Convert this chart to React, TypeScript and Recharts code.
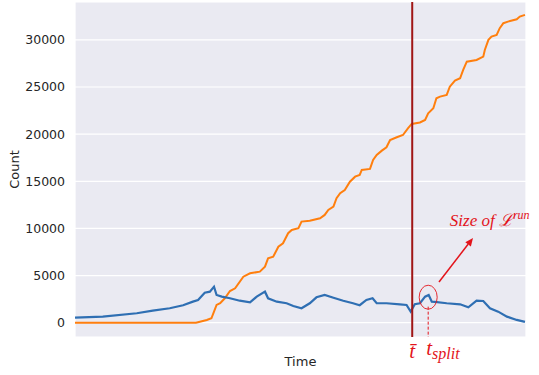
import { LineChart, Line, XAxis, YAxis, CartesianGrid, ReferenceLine, ReferenceDot } from "recharts";

// time axis is unitless (no tick labels in the original), grid every 10 units
const blueTime = [0, 5.4, 12, 15.1, 18.4, 21, 22.9, 23.9, 25.2, 26.2, 27, 27.5, 28.5, 30.1, 32, 34, 35.3, 36.9, 37.5, 39.2, 41.1, 42.4, 44, 45.6, 46.9, 48.5, 50.2, 52.1, 54, 55.3, 56.6, 57.8, 58.6, 60.5, 63.1, 64.4, 65.2, 66, 67, 68, 68.7, 69.3, 69.9, 72.2, 74.8, 76.4, 78, 79.3, 80.6, 82.2, 83.9, 85.8, 87.4];
const blueCount = [530, 640, 1000, 1270, 1530, 1850, 2230, 2410, 3180, 3290, 3820, 2940, 2760, 2590, 2330, 2160, 2760, 3290, 2590, 2230, 2060, 1770, 1530, 2060, 2690, 2940, 2650, 2330, 2060, 1850, 2410, 2590, 2060, 2060, 1950, 1880, 1170, 1950, 2060, 2760, 2940, 2230, 2200, 2060, 1950, 1630, 2330, 2300, 1530, 1170, 640, 290, 80];

const orangeTime = [0, 23.5, 25.6, 26.5, 27, 27.5, 28.2, 29.1, 30.1, 31.1, 32.7, 34, 35.9, 36.9, 37.5, 38.5, 39.5, 40.4, 41.4, 42.1, 43.4, 44, 45.6, 47.6, 48.5, 49.2, 50.2, 50.8, 51.5, 52.4, 53.4, 54.4, 55.3, 55.7, 57.3, 57.9, 58.6, 59.6, 60.5, 61.2, 62.5, 63.7, 64.7, 65.4, 67, 68, 68.6, 69.6, 70.2, 70.9, 72.2, 72.8, 73.8, 74.8, 75.4, 76.1, 78, 79.3, 79.6, 80.3, 80.9, 81.9, 82.5, 83.2, 84.1, 85.8, 86.4, 87.4];
const orangeCount = [0, 0, 290, 470, 1170, 1880, 2060, 2590, 3360, 3650, 4880, 5240, 5410, 5940, 6830, 7000, 8060, 8420, 9490, 9840, 10020, 10720, 10820, 11080, 11430, 11960, 12310, 13200, 13730, 14080, 14960, 15490, 15670, 16200, 16310, 17260, 17790, 18250, 18610, 19380, 19670, 19910, 20630, 21080, 21240, 21510, 22220, 22750, 23810, 23980, 24160, 25040, 25680, 25930, 26810, 27690, 27870, 28220, 28930, 30000, 30350, 30530, 31240, 31770, 31940, 32190, 32470, 32650];

const xTicks = [0, 10, 20, 30, 40, 50, 60, 70, 80];
const yTicks = [0, 5000, 10000, 15000, 20000, 25000, 30000];

const tBar = 65.5;
const tSplit = 68.6;

const blueData = blueTime.map((t, i) => ({ t, count: blueCount[i] }));
const orangeData = orangeTime.map((t, i) => ({ t, count: orangeCount[i] }));

const RED = "#e3141b";
const DARKRED = "#a01616";

const Arrow = (p: any) => {
  const { x1, y1, x2, y2 } = p;
  const ang = Math.atan2(y2 - y1, x2 - x1);
  const L = 8;
  const W = 3.5;
  const bx = x2 - L * Math.cos(ang);
  const by = y2 - L * Math.sin(ang);
  const px = -Math.sin(ang) * W;
  const py = Math.cos(ang) * W;
  return (
    <g>
      <line x1={x1} y1={y1} x2={bx} y2={by} stroke={RED} strokeWidth={1.5} />
      <polygon points={`${x2},${y2} ${bx + px},${by + py} ${bx - px},${by - py}`} fill={RED} />
    </g>
  );
};

export default function App() {
  return (
    <div style={{ position: "absolute", left: 0, top: 0, fontFamily: "DejaVu Sans" }}>
      <LineChart width={539} height={375} margin={{ top: 2, right: 13, bottom: 8, left: 0 }}>
        <CartesianGrid fill="#EAEAF2" stroke="#ffffff" strokeWidth={1.2} horizontal vertical />
        <XAxis
          type="number"
          dataKey="t"
          domain={[0, 87.6]}
          ticks={xTicks}
          allowDataOverflow
          tick={false}
          tickLine={false}
          axisLine={false}
          height={30}
          label={{ value: "Time", position: "insideBottom", offset: 1, fill: "#262626", fontSize: 13 }}
        />
        <YAxis
          type="number"
          dataKey="count"
          domain={[-1520, 34020]}
          ticks={yTicks}
          allowDataOverflow
          tickLine={false}
          axisLine={false}
          width={75}
          tickMargin={4}
          tick={{ fill: "#262626", fontSize: 12.5 }}
          label={{ value: "Count", angle: -90, position: "insideLeft", offset: 14, fill: "#262626", fontSize: 13, style: { textAnchor: "middle" } }}
        />
        <Line data={orangeData} dataKey="count" type="linear" stroke="#ff7f0e" strokeWidth={2} dot={false} isAnimationActive={false} />
        <Line data={blueData} dataKey="count" type="linear" stroke="#2f6fb3" strokeWidth={2.2} dot={false} isAnimationActive={false} />
        <ReferenceLine
          x={tBar}
          stroke={DARKRED}
          strokeWidth={2}
          label={{
            content: ({ viewBox }: any) => (
              <text x={viewBox.x} y={viewBox.y + viewBox.height + 21} textAnchor="middle" fill={RED} fontSize={21} fontStyle="italic" fontFamily="Liberation Serif">
                {"t\u0304"}
              </text>
            ),
          }}
        />
        <ReferenceLine
          segment={[{ x: tSplit, y: 1700 }, { x: tSplit, y: -1520 }]}
          stroke={RED}
          strokeWidth={1}
          strokeDasharray="3 2"
          label={{
            content: ({ viewBox }: any) => (
              <text x={viewBox.x - 2} y={viewBox.y + viewBox.height + 18} fill={RED} fontSize={21} fontStyle="italic" fontFamily="Liberation Serif">
                t<tspan fontSize={16} dy={4}>split</tspan>
              </text>
            ),
          }}
        />
        <ReferenceDot
          x={tSplit}
          y={2700}
          shape={(p: any) => <ellipse cx={p.cx} cy={p.cy} rx={9} ry={12} fill="none" stroke={RED} strokeWidth={0.9} />}
        />
        <ReferenceLine segment={[{ x: 70.7, y: 4320 }, { x: 77.3, y: 8990 }]} shape={Arrow} />
        <ReferenceDot
          x={72.8}
          y={10300}
          ifOverflow="visible"
          shape={(p: any) => (
            <text x={p.cx} y={p.cy} fill={RED} fontSize={17} fontStyle="italic" fontFamily="Liberation Serif">
              Size of {"\u2112"}
              <tspan fontSize={12} dy={-7}>run</tspan>
            </text>
          )}
        />
      </LineChart>
    </div>
  );
}
